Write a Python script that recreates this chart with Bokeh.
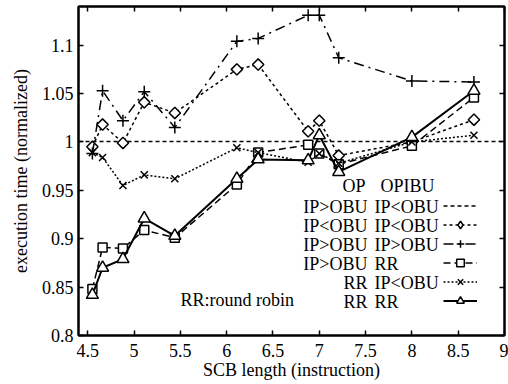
import math
from bokeh.plotting import figure
from bokeh.models import (Range1d, FixedTicker, LinearAxis, Label, Title,
                          Legend, LegendItem, ColumnDataSource)
from bokeh.embed import file_html
from bokeh.resources import INLINE

# ---------------- data ----------------
scb_length = [4.55, 4.66, 4.88, 5.11, 5.44, 6.11, 6.34, 6.88, 7.00, 7.21, 8.00, 8.67]
ipl_ipl = [0.995, 1.018, 0.999, 1.041, 1.030, 1.075, 1.080, 1.011, 1.022, 0.986, 1.000, 1.023]
ipg_ipg = [0.988, 1.053, 1.022, 1.052, 1.015, 1.104, 1.107, 1.131, 1.131, 1.087, 1.063, 1.062]
ipg_rr = [0.848, 0.891, 0.890, 0.909, 0.901, 0.956, 0.989, 0.997, 0.988, 0.977, 0.996, 1.046]
rr_ipl = [0.989, 0.984, 0.955, 0.966, 0.962, 0.994, 0.989, 0.979, 0.988, 0.978, 1.000, 1.007]
rr_rr = [0.842, 0.870, 0.879, 0.921, 0.903, 0.962, 0.982, 0.981, 1.007, 0.969, 1.005, 1.053]
baseline_value = [1.0]

x_ticks = [4.5, 5, 5.5, 6, 6.5, 7, 7.5, 8, 8.5, 9]
x_tick_labels = ["4.5", "5", "5.5", "6", "6.5", "7", "7.5", "8", "8.5", "9"]
y_ticks = [0.8, 0.85, 0.9, 0.95, 1.0, 1.05, 1.1]
y_tick_labels = ["0.8", "0.85", "0.9", "0.95", "1", "1.05", "1.1"]

op_labels = ["IP>OBU", "IP<OBU", "IP>OBU", "IP>OBU", "RR", "RR"]
opibu_labels = ["IP<OBU", "IP<OBU", "IP>OBU", "RR", "IP<OBU", "RR"]
x_title = "SCB length (instruction)"
y_title = "execution time (normalized)"
note_text = "RR:round robin"

FONT = "Times New Roman"
FS = "18px"

p = figure(width=508, height=384, output_backend="svg", toolbar_location=None,
           x_range=Range1d(4.4, 9.0), y_range=Range1d(0.8, 1.14),
           min_border_left=78, min_border_right=4, min_border_top=6,
           min_border_bottom=49)
p.grid.visible = False
p.outline_line_color = "black"
p.outline_line_width = 2
p.background_fill_color = "white"
p.border_fill_color = "white"

def style_axis(ax, ticks, labels, show_labels=True):
    ax.ticker = FixedTicker(ticks=ticks)
    ax.major_label_overrides = {t: l for t, l in zip(ticks, labels)}
    ax.major_tick_in = 5
    ax.major_tick_out = 0
    ax.minor_tick_in = 0
    ax.minor_tick_out = 0
    ax.axis_line_width = 2
    ax.axis_line_color = "black"
    ax.major_tick_line_width = 1.5
    ax.major_tick_line_color = "black"
    ax.major_label_text_font = FONT
    if show_labels:
        ax.major_label_text_font_size = FS
        ax.major_label_text_color = "black"
    else:
        ax.major_label_text_font_size = "1px"
        ax.major_label_text_color = None
        ax.major_label_standoff = 0

style_axis(p.xaxis[0], x_ticks, x_tick_labels)
p.xaxis[0].major_label_standoff = 8
p.xaxis[0].axis_label = x_title
p.xaxis[0].axis_label_text_font = FONT
p.xaxis[0].axis_label_text_font_size = FS
p.xaxis[0].axis_label_text_font_style = "normal"
p.xaxis[0].axis_label_text_color = "black"
p.xaxis[0].axis_label_standoff = 0

style_axis(p.yaxis[0], y_ticks, y_tick_labels)
p.yaxis[0].major_label_standoff = 5

# y title as a side Title so it can be shifted along the axis like the original
p.add_layout(Title(text=y_title, align="center", offset=-18, vertical_align="top",
                   standoff=12, text_font=FONT, text_font_size=FS,
                   text_font_style="normal", text_color="black"), "left")

top_ax = LinearAxis()
style_axis(top_ax, x_ticks, x_tick_labels, show_labels=False)
p.add_layout(top_ax, "above")
right_ax = LinearAxis()
style_axis(right_ax, y_ticks, y_tick_labels, show_labels=False)
p.add_layout(right_ax, "right")

# baseline (normalization reference)
base = p.hspan(y=baseline_value, line_color="black", line_width=1.5, line_dash="4 3")

src = ColumnDataSource(dict(x=scb_length, a=ipl_ipl, b=ipg_ipg, c=ipg_rr, d=rr_ipl, e=rr_rr))

# legend-only diamond (hidden under the rotated squares in the plot)
diam = p.scatter("x", "a", source=src, marker="diamond", size=10,
                 line_color="black", line_width=1.5, fill_color="white")

series = [
    ("a", "3 3", 1.5, "square", 8, math.pi / 4),
    ("b", "10 5 2 5", 1.5, "cross", 12, 0),
    ("c", "7 4", 1.5, "square", 9, 0),
    ("d", "2 2", 1.5, "x", 10, 0),
    ("e", "solid", 2, "triangle", 12, 0),
]
items = [LegendItem(label=" ", renderers=[base])]
for col, dash, lw, marker, size, ang in series:
    ln = p.line("x", col, source=src, line_color="black", line_width=lw, line_dash=dash)
    sc = p.scatter("x", col, source=src, marker=marker, size=size, angle=ang,
                   line_color="black", line_width=1.5, fill_color="white")
    if col == "a":
        items.append(LegendItem(label=" ", renderers=[ln, diam]))
    else:
        items.append(LegendItem(label=" ", renderers=[ln, sc]))

legend = Legend(items=items, location=(365, 25), orientation="vertical",
                glyph_width=34, glyph_height=19, label_width=0, label_height=19,
                label_standoff=0, spacing=0, padding=0, margin=0,
                label_text_font_size="1px", label_text_color=None,
                border_line_color=None, background_fill_alpha=0)
p.add_layout(legend, "center")

# legend texts (gnuplot-style two columns, right-aligned OP / left-aligned OPIBU)
def add_text(x, y, txt, align):
    p.add_layout(Label(x=x, y=y, x_units="screen", y_units="screen", text=txt,
                       text_font=FONT, text_font_size=FS, text_align=align,
                       text_baseline="middle", text_color="black"))

add_text(287, 150, "OP", "right")
add_text(302, 150, "OPIBU", "left")
for i, (a, b) in enumerate(zip(op_labels, opibu_labels)):
    yy = 129 - 19 * i
    add_text(289, yy, a, "right")
    add_text(296, yy, b, "left")

add_text(102, 36, note_text, "left")

open("out.html", "w").write(file_html(p, INLINE))
